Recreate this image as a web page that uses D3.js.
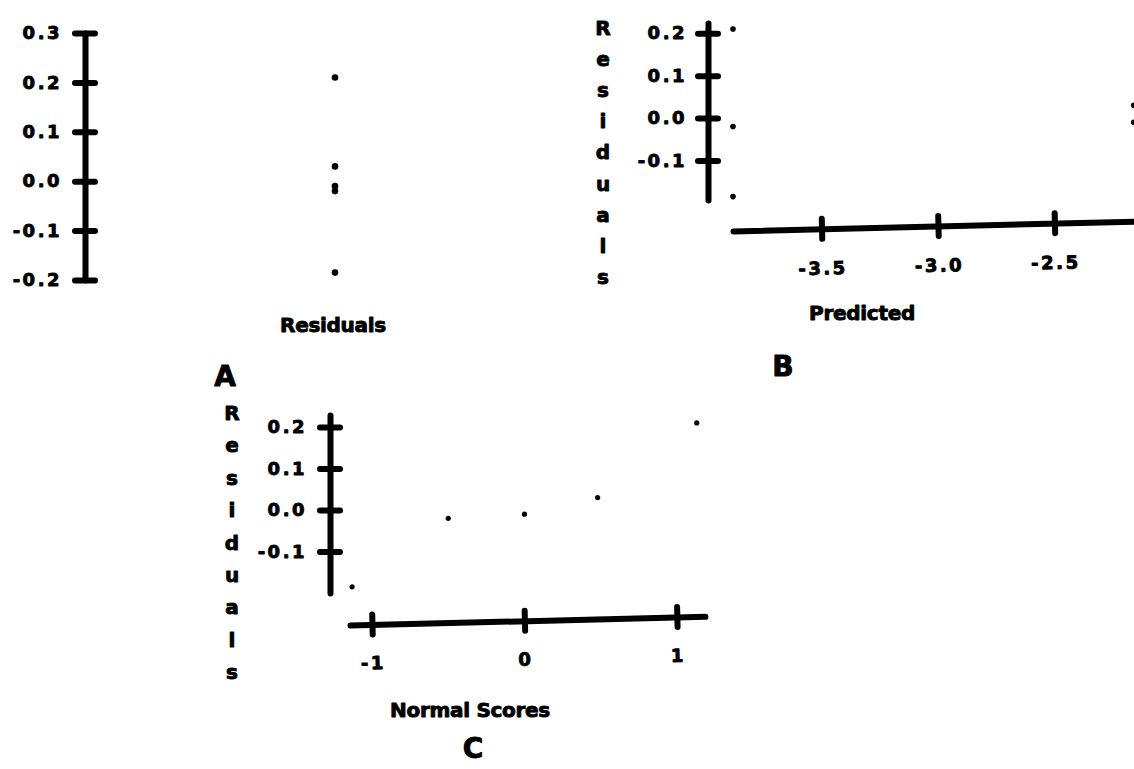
<!DOCTYPE html>
<html>
<head>
<meta charset="utf-8">
<script src="https://cdn.jsdelivr.net/npm/d3@7/dist/d3.min.js"></script>
<style>
  html, body { margin: 0; padding: 0; background: #fff; }
  svg { display: block; }
  text { font-family: "DejaVu Sans", "Liberation Sans", sans-serif; font-weight: bold; fill: #000; stroke: #000; stroke-width: 0.9px; stroke-linejoin: round; }
</style>
</head>
<body>
<svg id="chart" width="1134" height="769"></svg>
<script>
// ---- data ----
const residuals    = [-0.185, -0.02, -0.01, 0.03, 0.21];
const predicted    = [-3.88, -3.88, -2.16, -2.16, -3.88];
const normalScores = [-1.13, -0.5, 0, 0.48, 1.13];

const ticksA  = [-0.2, -0.1, 0.0, 0.1, 0.2, 0.3];
const ticksBY = [-0.1, 0.0, 0.1, 0.2];
const ticksBX = [-3.5, -3.0, -2.5];
const ticksCY = [-0.1, 0.0, 0.1, 0.2];
const ticksCX = [-1, 0, 1];

const labelA = "Residuals";
const labelB = "Predicted";
const labelC = "Normal Scores";
const yTitle = "Residuals";
const panelLetters = ["A", "B", "C"];

// ---- drawing ----
const svg = d3.select("#chart");
const hy = s => s.replace("\u2212", "-");
const fmt1 = d => hy(d3.format(".1f")(d));
const fmtInt = d => hy(d3.format("d")(d));
const AX = 6; // axis stroke width

function styleAxis(g, orient) {
  g.select(".domain").attr("stroke", "#000").attr("stroke-width", AX)
    .attr("stroke-linecap", "round").attr("fill", "none");
  g.selectAll(".tick line").remove();
  g.selectAll(".tick").append("line")
    .attr("stroke", "#000").attr("stroke-width", AX).attr("stroke-linecap", "round")
    .attr(orient === "y" ? "x1" : "y1", -10)
    .attr(orient === "y" ? "x2" : "y2", 10);
  g.selectAll(".tick text")
    .attr("font-size", 18).attr("letter-spacing", 2.5)
    .attr("font-family", "'DejaVu Sans', sans-serif").attr("font-weight", "bold")
    .attr("fill", "#000");
}

function verticalTitle(x, y0, step) {
  svg.append("g").selectAll("text")
    .data(yTitle.split(""))
    .join("text")
    .attr("x", x)
    .attr("y", (d, i) => y0 + i * step)
    .attr("text-anchor", "middle")
    .attr("dominant-baseline", "central")
    .attr("font-size", 20)
    .text(d => d);
}

// Panel A: one-dimensional dot plot of residuals
const yA = d3.scaleLinear().domain([-0.2, 0.3]).range([280, 33]);
const xA = d3.scalePoint().domain([labelA]).range([335, 335]);
const gA = svg.append("g").attr("transform", "translate(85,0)")
  .call(d3.axisLeft(yA).tickValues(ticksA).tickFormat(fmt1).tickSize(0).tickPadding(23));
styleAxis(gA, "y");
svg.append("g").selectAll("circle").data(residuals).join("circle")
  .attr("cx", () => xA(labelA)).attr("cy", d => yA(d)).attr("r", 3.3).attr("fill", "#000");
svg.append("text").attr("x", 333).attr("y", 332).attr("text-anchor", "middle")
  .attr("font-size", 20).attr("letter-spacing", -0.3).text(labelA);
svg.append("text").attr("x", 225).attr("y", 386).attr("text-anchor", "middle")
  .attr("font-size", 28).text(panelLetters[0]);

// Panel B: residuals vs predicted
const yB = d3.scaleLinear().domain([-0.193, 0.224]).range([200, 23]);
const xB = d3.scaleLinear().domain([-3.88, -2.0]).range([733, 1171]);
const gBY = svg.append("g").attr("transform", "translate(708,0)")
  .call(d3.axisLeft(yB).tickValues(ticksBY).tickFormat(fmt1).tickSize(0).tickPadding(21));
styleAxis(gBY, "y");
const gBX = svg.append("g").attr("transform", "translate(0,231) rotate(-1.4,733,0)")
  .call(d3.axisBottom(xB).tickValues(ticksBX).tickFormat(fmt1).tickSize(0).tickPadding(33));
styleAxis(gBX, "x");
svg.append("g").selectAll("circle").data(residuals).join("circle")
  .attr("cx", (d, i) => xB(predicted[i])).attr("cy", d => yB(d)).attr("r", 2.8).attr("fill", "#000");
verticalTitle(603, 28, 31.1);
svg.append("text").attr("x", 862).attr("y", 320).attr("text-anchor", "middle")
  .attr("font-size", 20).attr("letter-spacing", -0.3).text(labelB);
svg.append("text").attr("x", 783).attr("y", 376).attr("text-anchor", "middle")
  .attr("font-size", 28).text(panelLetters[1]);

// Panel C: residuals vs normal scores
const yC = d3.scaleLinear().domain([-0.2, 0.229]).range([593, 415]);
const xC = d3.scaleLinear().domain([-1.144, 1.184]).range([350, 705]);
const gCY = svg.append("g").attr("transform", "translate(330,0)")
  .call(d3.axisLeft(yC).tickValues(ticksCY).tickFormat(fmt1).tickSize(0).tickPadding(23));
styleAxis(gCY, "y");
const gCX = svg.append("g").attr("transform", "translate(0,625) rotate(-1.4,350,0)")
  .call(d3.axisBottom(xC).tickValues(ticksCX).tickFormat(fmtInt).tickSize(0).tickPadding(32));
styleAxis(gCX, "x");
svg.append("g").selectAll("circle").data(residuals).join("circle")
  .attr("cx", (d, i) => xC(normalScores[i])).attr("cy", d => yC(d)).attr("r", 2.6).attr("fill", "#000");
verticalTitle(232, 413, 32.4);
svg.append("text").attr("x", 470).attr("y", 717).attr("text-anchor", "middle")
  .attr("font-size", 20).attr("letter-spacing", -0.3).text(labelC);
svg.append("text").attr("x", 473).attr("y", 758).attr("text-anchor", "middle")
  .attr("font-size", 28).text(panelLetters[2]);
</script>
</body>
</html>
